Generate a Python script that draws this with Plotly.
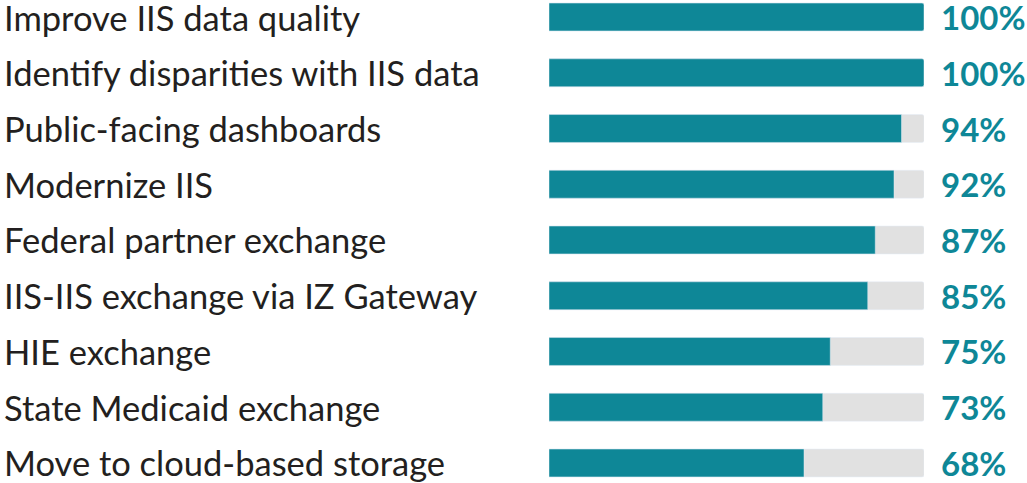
import plotly.graph_objects as go

categories = [
    "Improve IIS data quality",
    "Identify disparities with IIS data",
    "Public-facing dashboards",
    "Modernize IIS",
    "Federal partner exchange",
    "IIS-IIS exchange via IZ Gateway",
    "HIE exchange",
    "State Medicaid exchange",
    "Move to cloud-based storage",
]
values = [100, 100, 94, 92, 87, 85, 75, 73, 68]
value_labels = [f"{v}%" for v in values]
full = [100] * len(values)

TEAL = "#0E8797"
GRAY = "#E1E1E1"
W, H = 1027, 483
L, R = 549, 924
idx = list(range(len(categories)))

fig = go.Figure()
fig.add_trace(go.Bar(x=full, y=idx, orientation="h", marker=dict(color=GRAY, cornerradius=2),
                     width=0.5, hoverinfo="skip", showlegend=False))
fig.add_trace(go.Bar(x=values, y=idx, orientation="h", marker=dict(color=TEAL, cornerradius=2),
                     width=0.5, showlegend=False, hovertext=categories))

for i, (c, t) in enumerate(zip(categories, value_labels)):
    fig.add_annotation(x=(2 - L) / (R - L), xref="paper", y=i, yref="y", text=c, showarrow=False,
                       xanchor="left", yanchor="middle",
                       font=dict(family="Lato", size=34.5, color="#231F20"))
    fig.add_annotation(x=(939 - L) / (R - L), xref="paper", y=i, yref="y", text=t, showarrow=False,
                       xanchor="left", yanchor="middle",
                       font=dict(family="Lato", size=33, color=TEAL, weight="bold"))

fig.update_layout(
    width=W, height=H, barmode="overlay",
    margin=dict(l=L, r=W - R, t=0, b=0),
    plot_bgcolor="white", paper_bgcolor="white",
    xaxis=dict(range=[0, 100], visible=False, fixedrange=True),
    yaxis=dict(range=[8.359, -0.305], visible=False, fixedrange=True),
)
fig.write_html("out.html", config={"displayModeBar": False},
               post_script="document.body.style.margin='0';document.body.style.overflow='hidden';")
